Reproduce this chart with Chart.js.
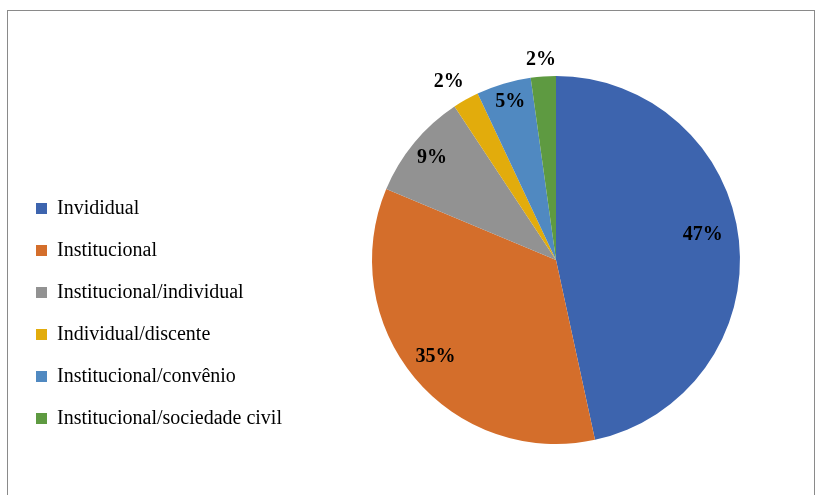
<!DOCTYPE html>
<html><head><meta charset="utf-8">
<script src="https://cdn.jsdelivr.net/npm/chart.js@4.4.0/dist/chart.umd.min.js"></script>
<style>html,body{margin:0;padding:0;background:#fff}canvas{display:block}</style>
</head><body><canvas id="c" width="822" height="495"></canvas>
<script>
const categories = ['Invididual', 'Institucional', 'Institucional/individual', 'Individual/discente', 'Institucional/convênio', 'Institucional/sociedade civil'];
const values = [46.6, 34.7, 9.4, 2.3, 4.8, 2.2];
const colors = ['#3D64AE', '#D46E2B', '#929292', '#E2AC0C', '#5089C1', '#5E9A41'];
// label placement (fraction of radius, angle shift in degrees)
const labelRadius = [0.81, 0.84, 0.875, 1.13, 0.895, 1.09];
const labelShift = [-3.7, 1.0, 0, -1.7, 0.4, -0.3];

const FONT = '"Liberation Serif", "Times New Roman", serif';
const LEGEND_SIZE = 20, BOX = 11, LPAD = 22, LEFT = 14;
const CX = 556, CY = 260, R = 184;

const mctx = document.createElement('canvas').getContext('2d');
mctx.font = LEGEND_SIZE + 'px ' + FONT;
const maxText = Math.max(...categories.map(t => mctx.measureText(t).width));
const legendW = LPAD + BOX + LEGEND_SIZE / 2 + maxText + 10;
const areaLeft = LEFT + legendW;
const padRight = 822 - (2 * CX - areaLeft);

const framePlugin = {
  id: 'frame',
  beforeDraw(chart) {
    const c = chart.ctx;
    c.save();
    c.fillStyle = '#fff';
    c.fillRect(0, 0, chart.width, chart.height);
    c.strokeStyle = '#8a8a8a';
    c.lineWidth = 1;
    c.strokeRect(7.5, 10.5, 807, 500);
    c.restore();
  }
};

const labelPlugin = {
  id: 'pctLabels',
  afterDatasetsDraw(chart) {
    const c = chart.ctx;
    const meta = chart.getDatasetMeta(0);
    const total = values.reduce((a, b) => a + b, 0);
    c.save();
    c.font = 'bold 20px ' + FONT;
    c.fillStyle = '#000';
    c.textAlign = 'center';
    c.textBaseline = 'middle';
    meta.data.forEach((arc, i) => {
      const p = arc.getProps(['x', 'y', 'startAngle', 'endAngle', 'outerRadius'], true);
      const mid = (p.startAngle + p.endAngle) / 2 + labelShift[i] * Math.PI / 180;
      const r = p.outerRadius * labelRadius[i];
      const txt = Math.round(values[i] / total * 100) + '%';
      c.fillText(txt, p.x + Math.cos(mid) * r, p.y + Math.sin(mid) * r);
    });
    c.restore();
  }
};

new Chart(document.getElementById('c'), {
  type: 'pie',
  data: {
    labels: categories,
    datasets: [{
      data: values,
      backgroundColor: colors,
      borderWidth: 0,
      hoverOffset: 0
    }]
  },
  options: {
    responsive: false,
    animation: false,
    radius: R,
    layout: { padding: { left: LEFT, right: padRight, top: 25, bottom: 0 } },
    plugins: {
      tooltip: { enabled: false },
      legend: {
        position: 'left',
        align: 'center',
        title: { display: true, text: '', padding: 0, font: { size: 107, lineHeight: 1 } },
        labels: {
          boxWidth: BOX,
          boxHeight: BOX,
          padding: LPAD,
          color: '#000',
          font: { family: FONT, size: LEGEND_SIZE }
        }
      }
    }
  },
  plugins: [framePlugin, labelPlugin]
});
</script>
</body></html>
